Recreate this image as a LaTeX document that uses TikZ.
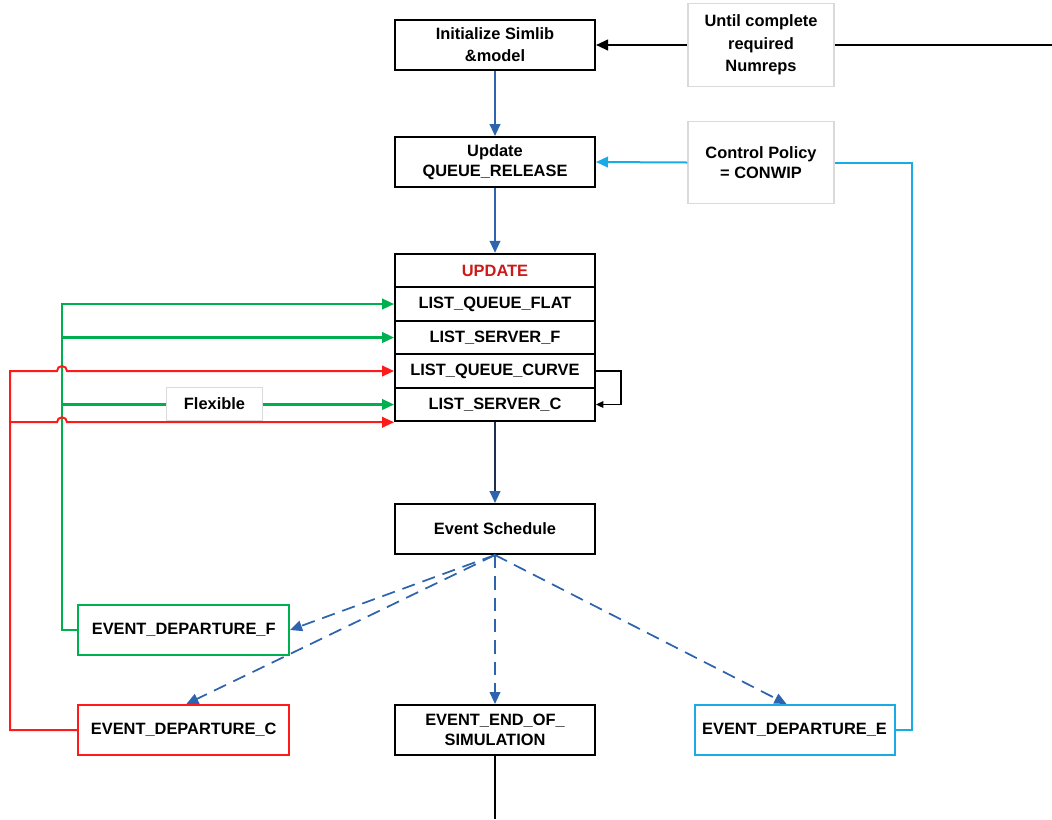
\documentclass[tikz,border=0pt]{standalone}
\usepackage{fontspec}
\setmainfont{Liberation Sans}
\usetikzlibrary{arrows.meta,calc}

\definecolor{flowblue}{HTML}{2E63AE}
\definecolor{policycyan}{HTML}{1AAAE6}
\definecolor{flexgreen}{HTML}{00B050}
\definecolor{curvered}{HTML}{FF1A1A}
\definecolor{updred}{HTML}{CC1A1A}
\definecolor{labelgray}{HTML}{DADADA}
\definecolor{darkflow}{HTML}{1F2F50}

\tikzset{
  box/.style={draw=black, line width=1.5pt, fill=white, minimum width=150pt,
    minimum height=37.5pt, inner sep=0pt, align=center},
  listbox/.style={box, minimum height=25.1pt},
  evbox/.style={box, minimum width=158pt},
  notebox/.style={draw=labelgray, line width=0.8pt, fill=white, minimum width=109.5pt,
    minimum height=62pt, inner sep=0pt, align=center},
  headed/.style={-{Triangle[length=9pt,width=8pt]}},
  smallhead/.style={-{Triangle[length=5.5pt,width=5pt]}},
  blueflow/.style={draw=flowblue, line width=1.5pt, headed},
  dashflow/.style={draw=flowblue, line width=1.3pt, dash pattern=on 10pt off 6pt, headed},
  greenflow/.style={draw=flexgreen, line width=1.7pt},
  redflow/.style={draw=curvered, line width=1.5pt},
  cyanflow/.style={draw=policycyan, line width=1.5pt},
}

\begin{document}
\begin{tikzpicture}[x=0.75pt, y=-0.75pt, font=\bfseries\fontsize{12.3}{15}\selectfont]
\useasboundingbox (0,0) rectangle (1052,819);

% main column
\node[box, font=\bfseries\fontsize{12.3}{16.5}\selectfont] (init) at (495,45) {Initialize Simlib\\\&model};
\node[box] (upd) at (495,162) {Update\\QUEUE\_RELEASE};
\node[listbox, text=updred] (uhead) at (495,270.5) {UPDATE};
\node[listbox] (flat) at (495,304) {LIST\_QUEUE\_FLAT};
\node[listbox] (sf) at (495,337.5) {LIST\_SERVER\_F};
\node[listbox] (qc) at (495,371) {LIST\_QUEUE\_CURVE};
\node[listbox] (sc) at (495,404.5) {LIST\_SERVER\_C};
\node[box] (es) at (495,529) {Event Schedule};
\node[box] (eos) at (495,730) {EVENT\_END\_OF\_\\SIMULATION};

% event nodes
\node[evbox, draw=flexgreen] (depf) at (183.7,630) {EVENT\_DEPARTURE\_F};
\node[evbox, draw=curvered] (depc) at (183.7,730) {EVENT\_DEPARTURE\_C};
\node[box, draw=policycyan] (depe) at (794.5,730) {EVENT\_DEPARTURE\_E};

% loose ends
\coordinate (farright) at (1052,45);
\coordinate (bottomend) at (495,819);
\coordinate (gtop) at (62,304);
\coordinate (rtop) at (10,371);
\coordinate (cturn) at (912,162.5);

% replication loop
\draw[line width=1.5pt] (farright) -- (761,45);
\node[notebox, font=\bfseries\fontsize{12.3}{17}\selectfont] (until) at (761,45) {Until complete\\required\\Numreps};
\draw[line width=1.5pt, headed] (until.west) -- (init.east);

% control policy loop
\draw[cyanflow] (depe.east) -| (cturn) -- (761,162.5);
\node[notebox] (ctrl) at (761,162.5) {Control Policy\\= CONWIP};
\draw[cyanflow, headed] (ctrl.west) -- (upd.east);

% main flow
\draw[blueflow] (init) -- (upd);
\draw[blueflow] (upd) -- (uhead);
\draw[draw=darkflow, line width=1.5pt, -{Triangle[length=9pt,width=8pt,color=flowblue]}] (sc) -- (es);
\draw[line width=1.5pt] (eos.south) -- (bottomend);

% self loop of the curve queue
\draw[line width=0.8pt, smallhead] (qc.east) -- ($(qc.east)+(25,0)$) |- (sc.east);

% flat-line updates
\draw[greenflow, headed] (depf.west) -- (depf.west -| gtop) -- (gtop) -- (flat.west);
\draw[greenflow, headed] (sf.west -| gtop) -- (sf.west);
\draw[greenflow, headed] (sc.west -| gtop) -- (sc.west);
\node[draw=labelgray, line width=0.6pt, fill=white, minimum width=72pt, minimum height=24.5pt, inner sep=0pt] (flex) at (214.5,404) {Flexible};

% curve updates, hopping over the green line
\draw[redflow, headed] (depc.west) -- (depc.west -| rtop) -- (rtop)
  -- ($(qc.west -| gtop)+(-5,0)$) arc[start angle=180, end angle=0, radius=3.75pt] -- (qc.west);
\draw[redflow, headed] (sc.south west -| rtop)
  -- ($(sc.south west -| gtop)+(-5,0)$) arc[start angle=180, end angle=0, radius=3.75pt] -- (sc.south west);

% scheduled events
\draw[dashflow] (es.south) -- (depf.east);
\draw[dashflow] (es.south) -- ([xshift=2pt]depc.north);
\draw[dashflow] (es.south) -- (eos.north);
\draw[dashflow] (es.south) -- ([xshift=-6pt]depe.north);
\end{tikzpicture}
\end{document}
